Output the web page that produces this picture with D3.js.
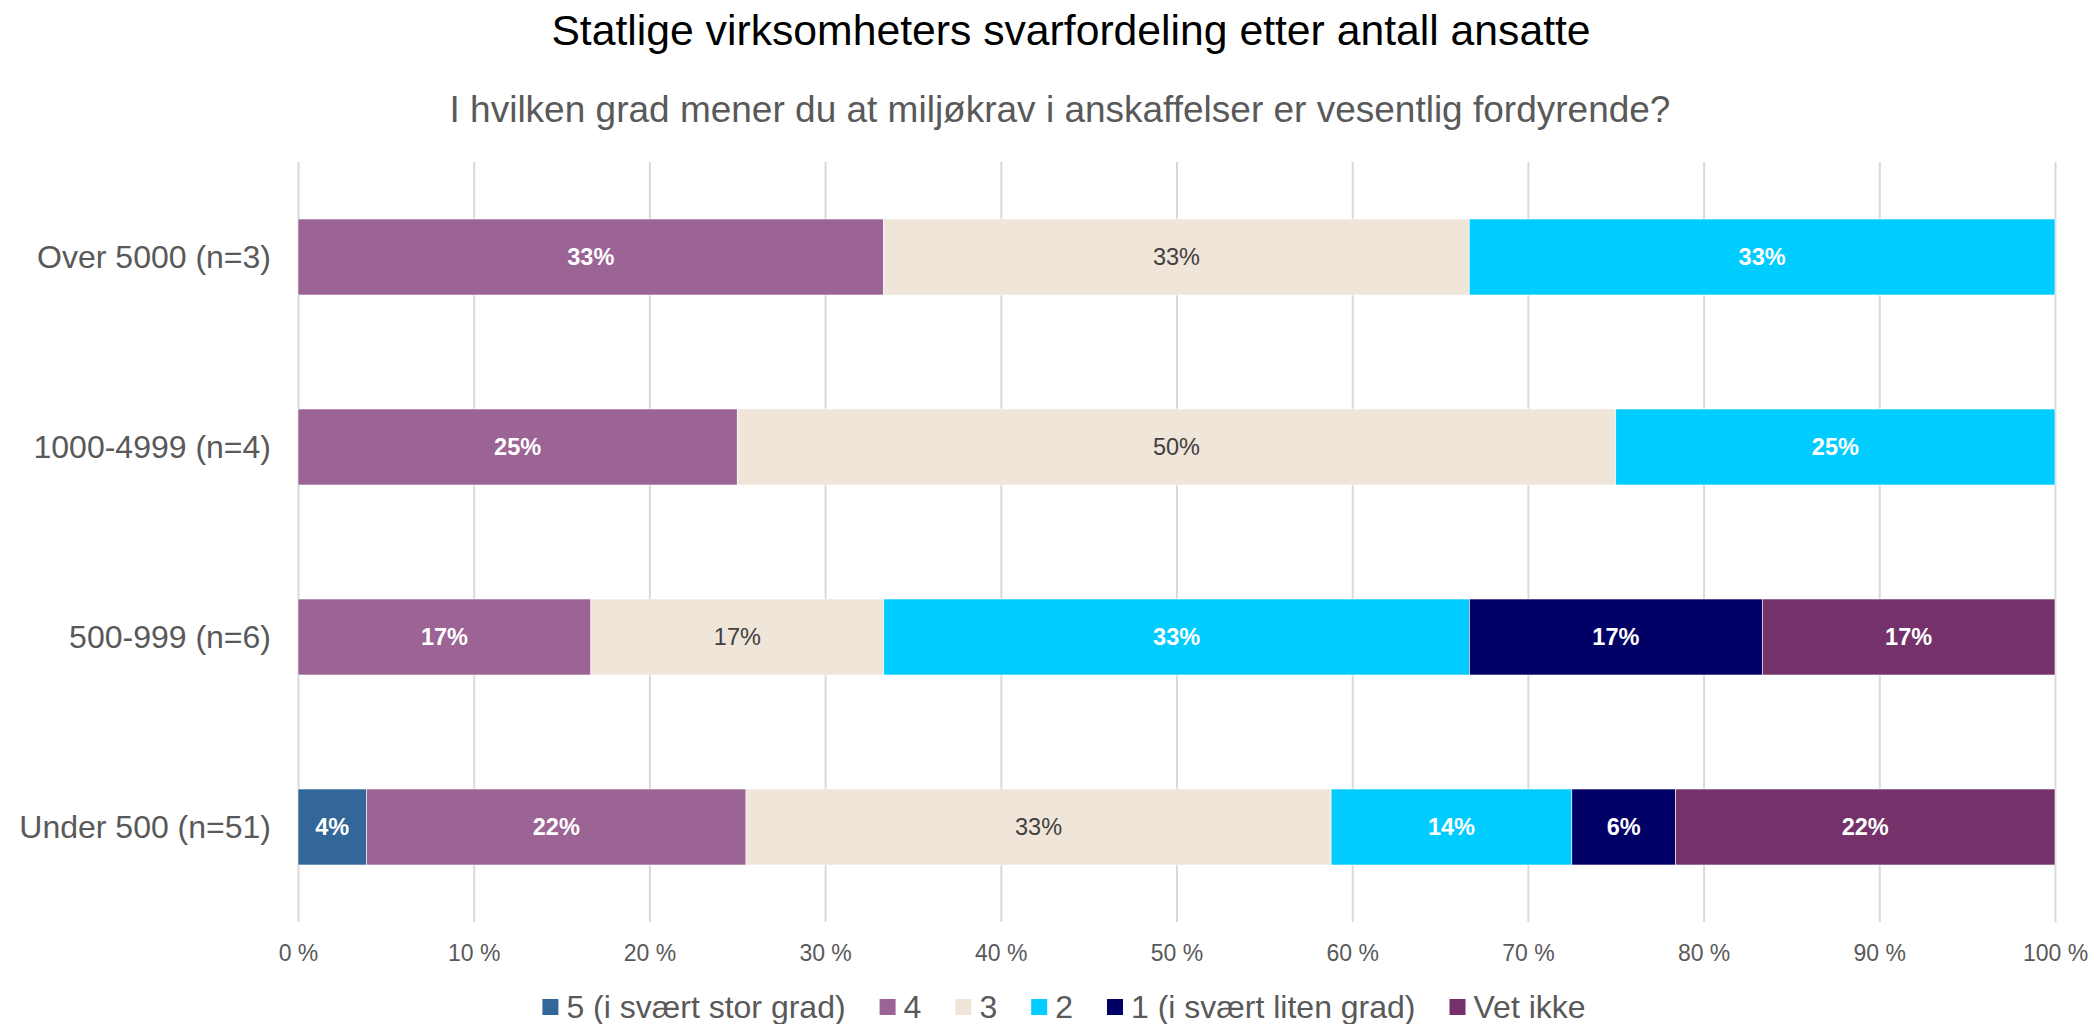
<!DOCTYPE html>
<html>
<head>
<meta charset="utf-8">
<script src="https://cdn.jsdelivr.net/npm/d3@7"></script>
<style>
    body { margin: 0; background: #fff; }
    svg { display: block; font-family: "Liberation Sans", Arial, sans-serif; }
</style>
</head>
<body>
<div id="canvas"></div>
<script>
"use strict";

// Data

let categories = ["Over 5000 (n=3)", "1000-4999 (n=4)", "500-999 (n=6)", "Under 500 (n=51)"];

let seriesNames = ["5 (i svært stor grad)", "4", "3", "2", "1 (i svært liten grad)", "Vet ikke"];
let seriesColors = ["#336699", "#9b6494", "#efe5d8", "#00ccff", "#000066", "#74316a"];

// percent per category, in series order
let values5 = [0, 0, 0, 3.9];
let values4 = [33.33, 25, 16.67, 21.6];
let values3 = [33.33, 50, 16.67, 33.3];
let values2 = [33.34, 25, 33.33, 13.7];
let values1 = [0, 0, 16.67, 5.9];
let valuesVet = [0, 0, 16.66, 21.6];

let tickValues = [0, 10, 20, 30, 40, 50, 60, 70, 80, 90, 100];

let title = "Statlige virksomheters svarfordeling etter antall ansatte";
let subtitle = "I hvilken grad mener du at miljøkrav i anskaffelser er vesentlig fordyrende?";

// SVG setup

let svgWidth = 2096;
let svgHeight = 1024;

let svg = d3.select("#canvas")
    .append("svg")
    .attr("width", svgWidth)
    .attr("height", svgHeight);

let plotLeft = 298;
let plotRight = 2055;
let plotTop = 162;
let plotBottom = 922;

let grey = "#595959";

// build stacked rows
let allValues = [values5, values4, values3, values2, values1, valuesVet];
let table = categories.map((c, i) => {
    let row = { category: c };
    seriesNames.forEach((s, j) => { row[s] = allValues[j][i]; });
    return row;
});
let stacked = d3.stack().keys(seriesNames)(table);

// Scales

let xScale = d3.scaleLinear()
    .domain([0, 100])
    .range([plotLeft, plotRight]);

let yScale = d3.scaleBand()
    .domain(categories)
    .range([plotTop, plotBottom])
    .paddingInner(0.6)
    .paddingOuter(0.3);

let colorScale = d3.scaleOrdinal()
    .domain(seriesNames)
    .range(seriesColors);

// Titles
svg.append("text")
    .attr("x", 1071)
    .attr("y", 45)
    .attr("text-anchor", "middle")
    .attr("font-size", 42.7)
    .attr("fill", "#000")
    .text(title);

svg.append("text")
    .attr("x", 1060)
    .attr("y", 122)
    .attr("text-anchor", "middle")
    .attr("font-size", 37)
    .attr("fill", grey)
    .text(subtitle);

// Gridlines + x axis labels
let xAxis = svg.append("g")
    .attr("transform", `translate(0, ${plotBottom})`)
    .call(d3.axisBottom(xScale)
        .tickValues(tickValues)
        .tickSize(-(plotBottom - plotTop))
        .tickPadding(0)
        .tickFormat(d => d + " %"));

xAxis.select(".domain").remove();
xAxis.selectAll(".tick line")
    .attr("stroke", "#d9d9d9")
    .attr("stroke-width", 2);
xAxis.selectAll(".tick text")
    .attr("y", 39)
    .attr("dy", 0)
    .attr("font-size", 23)
    .attr("font-family", "Liberation Sans, Arial, sans-serif")
    .attr("fill", grey);

// Category labels
let yAxis = svg.append("g")
    .attr("transform", `translate(${plotLeft}, 0)`)
    .call(d3.axisLeft(yScale).tickSize(0).tickPadding(27));

yAxis.select(".domain").remove();
yAxis.selectAll(".tick text")
    .attr("dy", "0.35em")
    .attr("font-size", 32)
    .attr("font-family", "Liberation Sans, Arial, sans-serif")
    .attr("fill", grey);

// Bars
let layers = svg.append("g")
    .selectAll("g")
    .data(stacked)
    .join("g")
    .attr("fill", d => colorScale(d.key));

layers.selectAll("rect")
    .data(d => d.filter(p => p[1] - p[0] > 0))
    .join("rect")
    .attr("x", d => xScale(d[0]))
    .attr("y", d => yScale(d.data.category))
    .attr("width", d => xScale(d[1]) - xScale(d[0]))
    .attr("height", yScale.bandwidth())
    .attr("stroke", "#fff")
    .attr("stroke-width", 0.6);

// Data labels
stacked.forEach(layer => {
    let light = layer.key === "3";
    svg.append("g")
        .selectAll("text")
        .data(layer.filter(p => p[1] - p[0] > 0))
        .join("text")
        .attr("x", d => xScale((d[0] + d[1]) / 2))
        .attr("y", d => yScale(d.data.category) + yScale.bandwidth() / 2)
        .attr("dy", "0.36em")
        .attr("text-anchor", "middle")
        .attr("font-size", 23.5)
        .attr("font-weight", light ? "normal" : "bold")
        .attr("fill", light ? "#404040" : "#fff")
        .text(d => Math.round(d[1] - d[0]) + "%");
});

// Legend
let legendY = 1007;
let legendCenter = 1064;
let squareSize = 16;
let textGap = 8;
let itemGap = 34;

let legend = svg.append("g");
let items = legend.selectAll("g")
    .data(seriesNames)
    .join("g");

items.append("rect")
    .attr("y", legendY - squareSize / 2)
    .attr("width", squareSize)
    .attr("height", squareSize)
    .attr("fill", d => colorScale(d));

items.append("text")
    .attr("x", squareSize + textGap)
    .attr("y", legendY)
    .attr("dy", "0.35em")
    .attr("font-size", 32)
    .attr("fill", grey)
    .text(d => d);

let offset = 0;
let widths = [];
items.each(function() {
    let w = squareSize + textGap + d3.select(this).select("text").node().getComputedTextLength();
    widths.push(w);
});
let totalWidth = d3.sum(widths) + itemGap * (widths.length - 1);
let startX = legendCenter - totalWidth / 2;
items.attr("transform", (d, i) => {
    let x = startX + offset;
    offset += widths[i] + itemGap;
    return `translate(${x}, 0)`;
});
</script>
</body>
</html>
